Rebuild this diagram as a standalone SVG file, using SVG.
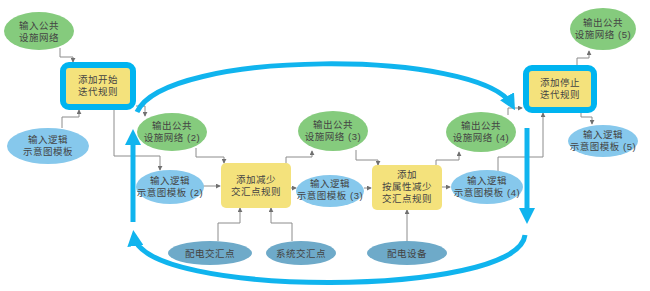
<svg xmlns="http://www.w3.org/2000/svg" width="650" height="291" viewBox="0 0 650 291">
<defs>
<style>
text{font-family:"Liberation Sans","Noto Sans CJK SC",sans-serif;font-size:9.5px;fill:#444;text-anchor:middle;letter-spacing:0.5px}
.g{fill:#85cb7d}
.lb{fill:#86c8ec}
.db{fill:#6eaac9}
.box{fill:#f4e27c}
.it{fill:#f4e27c;stroke:#00b4f0;stroke-width:6}
.c{fill:none;stroke:#8c8c8c;stroke-width:1;marker-end:url(#a)}
.big{fill:none;stroke:#10b4ee;stroke-width:5;marker-end:url(#b)}
</style>
<marker id="a" viewBox="0 0 6 6" refX="5" refY="3" markerWidth="5" markerHeight="5" markerUnits="userSpaceOnUse" orient="auto"><path d="M0,0 L6,3 L0,6 z" fill="#707070"/></marker>
<marker id="b" viewBox="0 0 16 16" refX="10" refY="8" markerWidth="16" markerHeight="16" markerUnits="userSpaceOnUse" orient="auto"><path d="M0,0 L16,8 L0,16 z" fill="#10b4ee"/></marker>
</defs>
<g id="connectors">
<polyline class="c" points="60,48 60,57 73,57 73,62"/>
<polyline class="c" points="62,128 62,117 79,117 79,110"/>
<polyline class="c" points="114,110 114,156 160,156 160,170"/>
<polyline class="c" points="136,106 145,106 145,116"/>
<polyline class="c" points="196,148 196,157 224,157 224,163"/>
<polyline class="c" points="203,186 220,186"/>
<polyline class="c" points="286,163 286,157 312,157 312,151"/>
<polyline class="c" points="356,150 356,160 378,160 378,165"/>
<polyline class="c" points="291,188 296,188"/>
<polyline class="c" points="364,188 371,188"/>
<polyline class="c" points="436,165 436,160 459,160 459,152"/>
<polyline class="c" points="442,187 450,187"/>
<polyline class="c" points="508,115 508,108 522,108"/>
<polyline class="c" points="498,171 498,157 543,157 543,113"/>
<polyline class="c" points="577,65 577,58 589,58 589,51"/>
<polyline class="c" points="581,113 581,117 592,117 592,124"/>
<polyline class="c" points="218,241 218,223 240,223 240,208"/>
<polyline class="c" points="292,241 292,223 271,223 271,208"/>
<polyline class="c" points="407,241 407,210"/>
<path class="big" d="M137,112 C165,49 480,49 512,105"/>
<path class="big" d="M527,128 L527,218"/>
<path class="big" d="M525,235 C518,298 142,298 134,236"/>
<path class="big" d="M133,222 L133,135"/>
</g>
<g id="n1"><ellipse class="g" cx="39" cy="31" rx="35" ry="19"/><text x="39" y="29">输入公共</text><text x="39" y="41">设施网络</text></g>
<g id="n2"><rect class="it" x="63" y="65" width="70" height="42" rx="6"/><text x="98" y="83">添加开始</text><text x="98" y="95">迭代规则</text></g>
<g id="n3"><ellipse class="lb" cx="48" cy="146" rx="41" ry="18"/><text x="48" y="143">输入逻辑</text><text x="48" y="155">示意图模板</text></g>
<g id="n4"><ellipse class="g" cx="172" cy="132" rx="35" ry="19"/><text x="172" y="129">输出公共</text><text x="172" y="141">设施网络 (2)</text></g>
<g id="n5"><ellipse class="lb" cx="170" cy="187" rx="34" ry="17"/><text x="170" y="184">输入逻辑</text><text x="170" y="196">示意图模板 (2)</text></g>
<g id="n6"><rect class="box" x="221" y="163" width="70" height="45" rx="5"/><text x="256" y="183">添加减少</text><text x="256" y="195">交汇点规则</text></g>
<g id="n7"><ellipse class="g" cx="333" cy="131" rx="35" ry="20"/><text x="333" y="128">输出公共</text><text x="333" y="140">设施网络 (3)</text></g>
<g id="n8"><ellipse class="lb" cx="330" cy="191" rx="34" ry="16"/><text x="330" y="187">输入逻辑</text><text x="330" y="199">示意图模板 (3)</text></g>
<g id="n9"><rect class="box" x="372" y="165" width="70" height="45" rx="5"/><text x="407" y="178">添加</text><text x="407" y="190">按属性减少</text><text x="407" y="202">交汇点规则</text></g>
<g id="n10"><ellipse class="g" cx="481" cy="132" rx="35" ry="20"/><text x="481" y="129">输出公共</text><text x="481" y="141">设施网络 (4)</text></g>
<g id="n11"><ellipse class="lb" cx="487" cy="187" rx="36" ry="17"/><text x="487" y="184">输入逻辑</text><text x="487" y="196">示意图模板 (4)</text></g>
<g id="n12"><rect class="it" x="526" y="68" width="68" height="42" rx="6"/><text x="560" y="86">添加停止</text><text x="560" y="98">迭代规则</text></g>
<g id="n13"><ellipse class="g" cx="603" cy="29" rx="33" ry="21"/><text x="603" y="26">输出公共</text><text x="603" y="38">设施网络 (5)</text></g>
<g id="n14"><ellipse class="lb" cx="603" cy="141" rx="35" ry="16"/><text x="603" y="138">输入逻辑</text><text x="603" y="150">示意图模板 (5)</text></g>
<g id="n15"><ellipse class="db" cx="210" cy="253" rx="42" ry="12"/><text x="210" y="256.5">配电交汇点</text></g>
<g id="n16"><ellipse class="db" cx="301" cy="253" rx="35" ry="12"/><text x="301" y="256.5">系统交汇点</text></g>
<g id="n17"><ellipse class="db" cx="407" cy="253" rx="40" ry="12"/><text x="407" y="256.5">配电设备</text></g>
</svg>
